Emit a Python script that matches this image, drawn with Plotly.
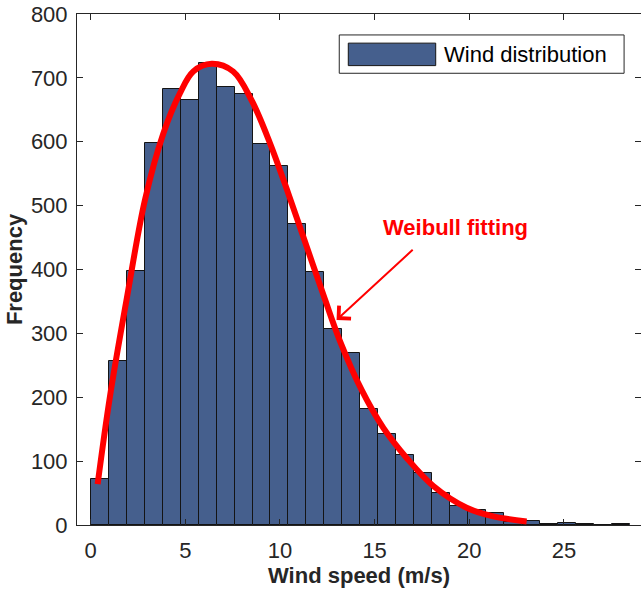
import plotly.graph_objects as go

# Histogram of wind speed samples: 30 equal bins starting at 0 m/s
bin_start = 0.0
bin_width = 0.95
counts = [72, 256, 398, 598, 683, 665, 724, 685, 674, 596,
          562, 471, 396, 307, 269, 181, 143, 110, 81, 50,
          30, 24, 19, 4, 7, 2, 3, 1, 0, 1]

# Fitted Weibull curve (scaled to frequency)
fit_x = [0.37, 1.02, 1.90, 2.87, 3.84, 4.72, 5.42, 6.39, 7.53, 8.50,
         9.47, 10.44, 11.41, 12.38, 13.17, 14.32, 15.46, 16.69, 18.10,
         19.86, 21.27, 23.03]
fit_y = [64, 201, 353, 509, 613, 676, 710, 722, 710, 665,
         598, 519, 436, 353, 288, 211, 152, 105, 61,
         27, 13.5, 5.6]

x_ticks = [0, 5, 10, 15, 20, 25]
y_ticks = [0, 100, 200, 300, 400, 500, 600, 700, 800]

centers = [bin_start + bin_width * (i + 0.5) for i in range(len(counts))]

FONT = "Liberation Sans, Arial, sans-serif"
BAR_COLOR = "#455F8D"
AXIS_COLOR = "#262626"

fig = go.Figure()
fig.add_trace(go.Bar(
    x=centers, y=counts, width=bin_width,
    marker=dict(color=BAR_COLOR, line=dict(color="#141414", width=1)),
    name="Wind distribution", showlegend=False,
))
fig.add_trace(go.Scatter(
    x=fit_x, y=fit_y, mode="lines",
    line=dict(color="#FF0000", width=6, shape="spline"),
    name="Weibull fitting", showlegend=False,
))

# Arrow pointing at the fitted curve, and its label
fig.add_annotation(
    x=12.99, y=321, ax=17.09, ay=433, axref="x", ayref="y",
    text="", showarrow=True, arrowhead=4, arrowsize=1.7,
    arrowwidth=2, arrowcolor="#FF0000",
)
fig.add_annotation(
    x=19.29, y=465, text="<b>Weibull fitting</b>", showarrow=False,
    font=dict(family=FONT, size=22, color="#FF0000"),
)

# Legend box drawn in paper coordinates (wide patch style)
fig.add_shape(type="rect", xref="paper", yref="paper",
              x0=0.465, x1=0.970, y0=0.884, y1=0.959,
              line=dict(color="#262626", width=1), fillcolor="white", layer="above")
fig.add_shape(type="rect", xref="paper", yref="paper",
              x0=0.481, x1=0.636, y0=0.899, y1=0.943,
              line=dict(color="#141414", width=1), fillcolor=BAR_COLOR, layer="above")
fig.add_annotation(
    xref="paper", yref="paper", x=0.647, y=0.921, xanchor="left", yanchor="middle",
    text="Wind distribution", showarrow=False,
    font=dict(family=FONT, size=22, color="#000000"),
)

fig.update_layout(
    width=641, height=594,
    margin=dict(l=77, r=0, t=14, b=69),
    plot_bgcolor="white", paper_bgcolor="white",
    bargap=0,
    font=dict(family=FONT, size=22, color=AXIS_COLOR),
)
fig.update_xaxes(
    range=[-0.72, 29.07], tickvals=x_ticks,
    ticks="inside", ticklen=6, tickcolor=AXIS_COLOR, tickwidth=1,
    showline=True, linecolor=AXIS_COLOR, linewidth=1, mirror="ticks",
    showgrid=False, zeroline=False,
    ticklabelstandoff=6,
    title=dict(text="<b>Wind speed (m/s)</b>", standoff=1,
               font=dict(family=FONT, size=22, color=AXIS_COLOR)),
)
fig.update_yaxes(
    range=[0, 800], tickvals=y_ticks,
    ticks="inside", ticklen=6, tickcolor=AXIS_COLOR, tickwidth=1,
    showline=True, linecolor=AXIS_COLOR, linewidth=1, mirror="ticks",
    showgrid=False, zeroline=False,
    ticklabelstandoff=4,
    title=dict(text="<b>Frequency</b>", standoff=2,
               font=dict(family=FONT, size=22, color=AXIS_COLOR)),
)

fig.write_html("out.html")
